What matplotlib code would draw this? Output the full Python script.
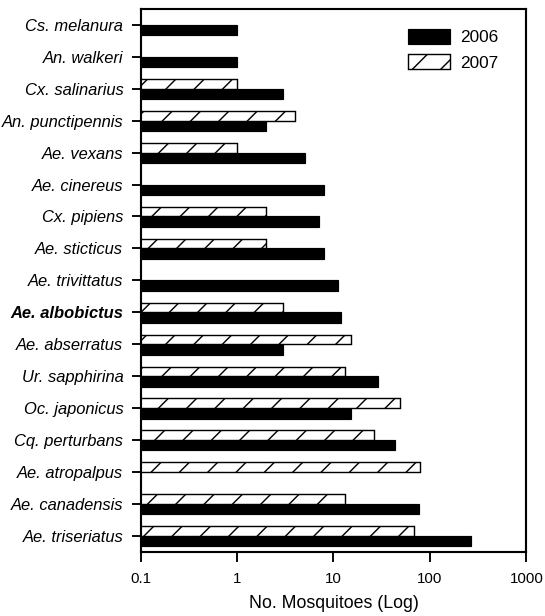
import numpy as np
import matplotlib
matplotlib.use("Agg")
import matplotlib.pyplot as plt

# species listed top to bottom
species = ["Cs. melanura", "An. walkeri", "Cx. salinarius", "An. punctipennis",
           "Ae. vexans", "Ae. cinereus", "Cx. pipiens", "Ae. sticticus",
           "Ae. trivittatus", "Ae. albobictus", "Ae. abserratus", "Ur. sapphirina",
           "Oc. japonicus", "Cq. perturbans", "Ae. atropalpus", "Ae. canadensis",
           "Ae. triseriatus"]

nan = np.nan
counts_2006 = [1, 1, 3, 2, 5, 8, 7, 8, 11, 12, 3, 29, 15, 43, nan, 77, 265]
counts_2007 = [nan, nan, 1, 4, 1, nan, 2, 2, nan, 3, 15, 13, 49, 26, 79, 13, 69]

xticks = [0.1, 1, 10, 100, 1000]
xtick_labels = ["0.1", "1", "10", "100", "1000"]

plt.rcParams["font.family"] = "Liberation Sans"
plt.rcParams["hatch.linewidth"] = 0.6

# dpi chosen so the hatch spacing comes out wide
dpi = 170
fig = plt.figure(figsize=(545 / dpi, 616 / dpi), dpi=dpi)
ax = fig.add_axes([0.2578, 0.1044, 0.7082, 0.881])

pos = np.arange(len(species))
ax.barh(pos, counts_2006, height=0.33, align="edge", left=0.01,
        color="black", edgecolor="black", linewidth=0.5, label="2006")
ax.barh(pos, counts_2007, height=-0.30, align="edge", left=0.01,
        color="white", edgecolor="black", hatch="//", linewidth=0.6, label="2007")

ax.set_xscale("log")
ax.set_xlim(0.1, 1000)
ax.set_ylim(len(species) - 0.5, -0.5)
ax.set_xticks(xticks)
ax.set_xticklabels(xtick_labels)
ax.xaxis.set_minor_locator(matplotlib.ticker.NullLocator())
ax.set_yticks(pos)
ax.set_yticklabels(species, fontstyle="italic")
for lbl in ax.get_yticklabels():
    if lbl.get_text() == "Ae. albobictus":
        lbl.set_fontweight("bold")

ax.tick_params(axis="y", labelsize=7.0, length=3.7, width=0.8, pad=3.6)
ax.tick_params(axis="x", labelsize=6.4, length=4.2, width=0.8, pad=4.2)
for sp in ax.spines.values():
    sp.set_linewidth(0.9)

ax.set_xlabel("No. Mosquitoes (Log)", fontsize=7.5, labelpad=4)

ax.legend(loc="upper left", bbox_to_anchor=(0.692, 0.963), frameon=False,
          borderpad=0, borderaxespad=0, fontsize=7.3, handlelength=2.44,
          handleheight=0.96, handletextpad=0.62, labelspacing=0.5)

fig.savefig("out.png", dpi=dpi)
